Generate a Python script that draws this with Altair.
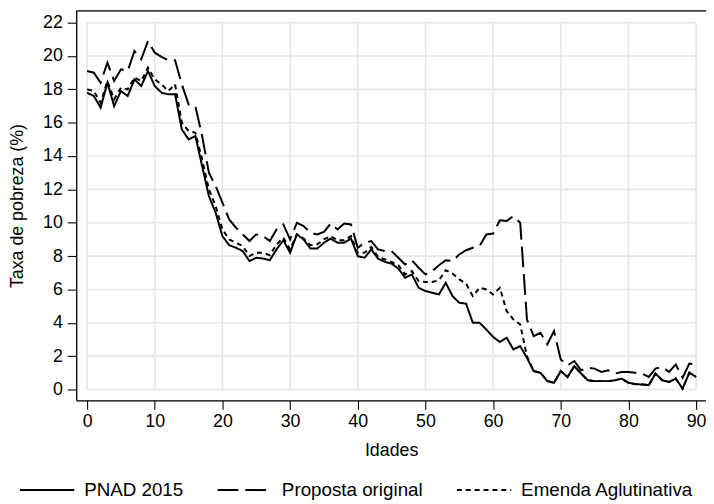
import altair as alt
import pandas as pd

ages = list(range(0, 91))

pnad = [17.8, 17.6, 16.9, 18.4, 17.0, 17.9, 17.6, 18.6, 18.2, 19.1,
        18.2, 17.8, 17.7, 17.7, 15.6, 15.0, 15.2, 13.4, 11.6, 10.6,
        9.2, 8.65, 8.5, 8.3, 7.7, 7.9, 7.85, 7.75, 8.4, 8.95,
        8.2, 9.3, 9.0, 8.45, 8.45, 8.8, 9.05, 8.8, 8.8, 9.05,
        8.0, 7.9, 8.4, 7.85, 7.65, 7.55, 7.25, 6.7, 6.9, 6.1,
        5.9, 5.8, 5.7, 6.4, 5.6, 5.2, 5.15, 4.0, 4.0, 3.6,
        3.15, 2.85, 3.1, 2.4, 2.6, 1.9, 1.1, 1.0, 0.5, 0.4,
        1.1, 0.75, 1.4, 0.95, 0.55, 0.5, 0.5, 0.5, 0.55, 0.65,
        0.4, 0.32, 0.3, 0.26, 0.95, 0.55, 0.45, 0.65, 0.05, 1.0, 0.75]

proposta = [19.1, 19.0, 18.4, 19.6, 18.5, 19.2, 19.1, 20.3, 19.8, 20.9,
            20.2, 19.95, 19.75, 19.75, 18.3, 17.1, 17.0, 15.2, 13.0, 12.2,
            11.2, 10.2, 9.7, 9.3, 8.9, 9.3, 9.2, 8.9, 9.6, 9.9,
            9.0, 10.0, 9.8, 9.4, 9.3, 9.45, 9.95, 9.6, 9.95, 9.9,
            8.5, 8.8, 8.9, 8.4, 8.3, 8.3, 7.9, 7.5, 7.75, 7.3,
            6.9, 7.1, 7.45, 7.75, 7.7, 8.1, 8.35, 8.5, 8.6, 9.3,
            9.35, 10.15, 10.1, 10.4, 10.0, 4.2, 3.2, 3.4, 2.7, 3.5,
            1.8, 1.45, 1.7, 1.15, 1.3, 1.25, 1.05, 1.15, 0.95, 1.05,
            1.05, 1.0, 0.95, 0.75, 1.25, 1.35, 1.05, 1.5, 0.7, 1.55, 1.5]

emenda = [18.0, 17.9, 17.2, 18.5, 17.4, 18.1, 18.0, 18.7, 18.5, 19.3,
          18.6, 18.3, 17.9, 18.3, 16.0, 15.5, 15.4, 13.8, 12.0, 11.0,
          9.6, 9.0, 8.8, 8.6, 8.0, 8.2, 8.2, 8.05, 8.7, 9.1,
          8.4, 9.3, 9.05, 8.65, 8.7, 9.0, 9.2, 8.95, 8.95, 9.2,
          8.2, 8.2, 8.55, 7.95, 7.8, 7.65, 7.45, 6.9, 7.1, 6.5,
          6.45, 6.45, 6.55, 7.15, 6.95, 6.6, 6.35, 5.6, 6.1, 6.0,
          5.7, 6.1, 4.7, 4.2, 3.9, 2.0, 1.1, 1.0, 0.5, 0.4,
          1.1, 0.75, 1.4, 0.95, 0.55, 0.5, 0.5, 0.5, 0.55, 0.65,
          0.4, 0.32, 0.3, 0.26, 0.95, 0.55, 0.45, 0.65, 0.05, 1.0, 0.75]

series_names = ["PNAD 2015", "Proposta original", "Emenda Aglutinativa"]
x_ticks = list(range(0, 91, 10))
y_ticks = list(range(0, 23, 2))

rows = []
for name, vals in zip(series_names, [pnad, proposta, emenda]):
    for a, v in zip(ages, vals):
        rows.append({"idade": a, "taxa": v, "serie": name})
df = pd.DataFrame(rows)

W, H = 637, 394
FONT = "Liberation Sans"

xscale = alt.Scale(domain=[-1.607, 91.461], nice=False, zero=False)
yscale = alt.Scale(domain=[-0.652, 22.712], nice=False, zero=False)

xaxis = alt.Axis(values=x_ticks, title="Idades", grid=False, tickSize=9,
                 labelPadding=3, titlePadding=12, domainColor="black",
                 tickColor="black", domainWidth=1.3, tickWidth=1.1,
                 labelFontSize=18, titleFontSize=18, labelFont=FONT,
                 titleFont=FONT, titleFontWeight="normal", labelColor="black",
                 titleColor="black")
yaxis = alt.Axis(values=y_ticks, title="Taxa de pobreza (%)", grid=False,
                 tickSize=9, labelPadding=5, titlePadding=16,
                 domainColor="black", tickColor="black", domainWidth=1.3,
                 tickWidth=1.1, labelFontSize=18, titleFontSize=18,
                 labelFont=FONT, titleFont=FONT, titleFontWeight="normal",
                 labelColor="black", titleColor="black")

vgrid_df = pd.DataFrame({"gx": x_ticks, "y0": y_ticks[0], "y1": y_ticks[-1]})
hgrid_df = pd.DataFrame({"gy": y_ticks, "x0": x_ticks[0], "x1": x_ticks[-1]})

vgrid = alt.Chart(vgrid_df).mark_rule(color="#e6e6e6", strokeWidth=1.6).encode(
    x=alt.X("gx:Q", scale=xscale, axis=xaxis),
    y=alt.Y("y0:Q", scale=yscale, axis=yaxis),
    y2="y1:Q",
)
hgrid = alt.Chart(hgrid_df).mark_rule(color="#e6e6e6", strokeWidth=1.6).encode(
    y=alt.Y("gy:Q", scale=yscale, axis=yaxis),
    x=alt.X("x0:Q", scale=xscale, axis=xaxis),
    x2="x1:Q",
)

lines = alt.Chart(df).mark_line(color="black", strokeWidth=2.0).encode(
    x=alt.X("idade:Q", scale=xscale, axis=xaxis),
    y=alt.Y("taxa:Q", scale=yscale, axis=yaxis),
    strokeDash=alt.StrokeDash(
        "serie:N",
        scale=alt.Scale(domain=series_names, range=[[1, 0], [21, 7], [5, 4]]),
        sort=series_names,
        legend=alt.Legend(orient="none", legendX=-58, legendY=456,
                          direction="horizontal", title=None,
                          symbolType="stroke", symbolSize=3025,
                          symbolStrokeWidth=2.0, symbolStrokeColor="black",
                          labelFontSize=19, labelFont=FONT, labelColor="black",
                          columnPadding=30, labelOffset=9, padding=0,
                          labelLimit=0),
    ),
    order="idade:Q",
)

top = alt.Chart(pd.DataFrame({"k": [0]})).mark_rule(color="black", strokeWidth=1.3).encode(
    x=alt.value(0), x2=alt.value(W), y=alt.value(0)
)

chart = alt.layer(vgrid, hgrid, lines, top).properties(
    width=W, height=H,
    padding={"left": 69, "top": 0, "right": 0, "bottom": 100},
    autosize=alt.AutoSizeParams(type="none"),
).configure_view(stroke=None).configure(background="white")

chart.save("out.html", embed_options={"renderer": "svg", "actions": False})
